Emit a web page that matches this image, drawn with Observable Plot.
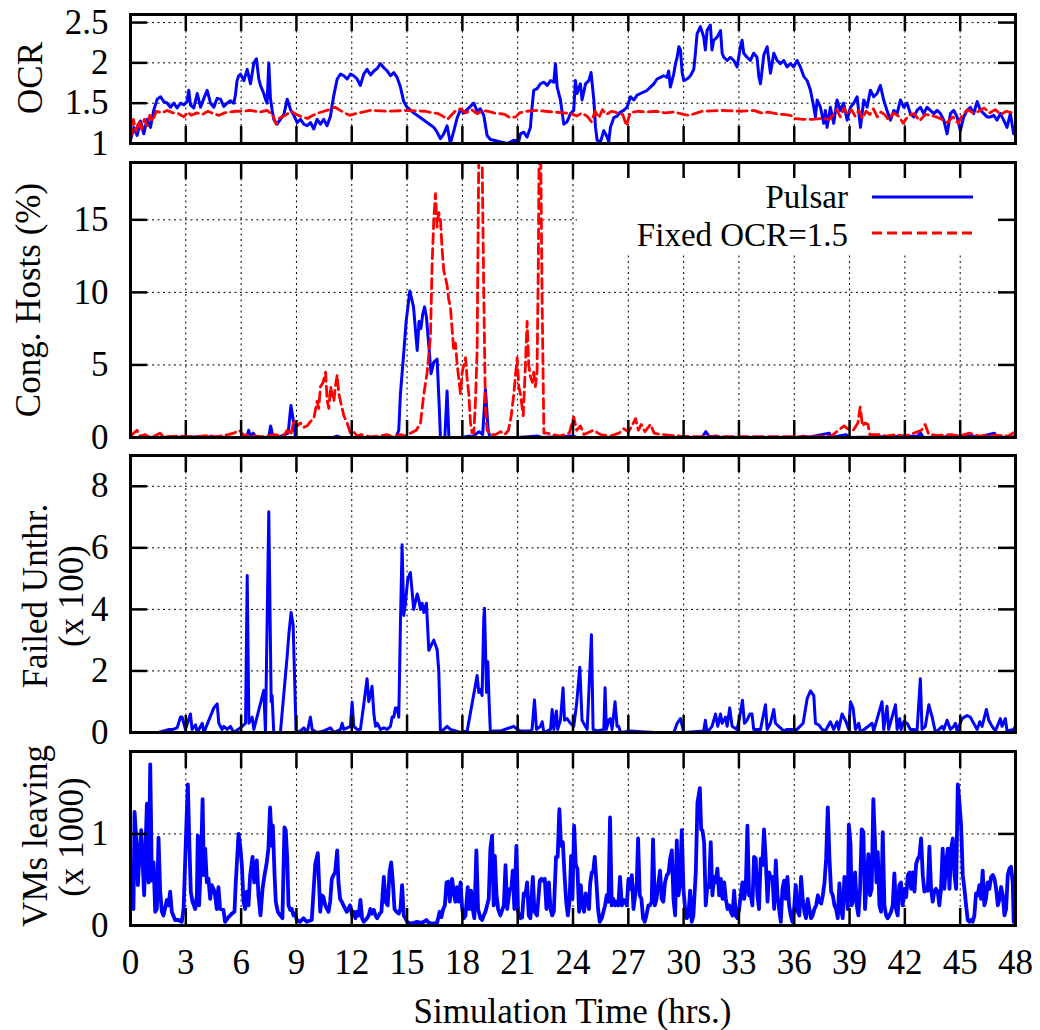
<!DOCTYPE html>
<html><head><meta charset="utf-8">
<script src="https://cdn.jsdelivr.net/npm/d3@7"></script>
<script src="https://cdn.jsdelivr.net/npm/@observablehq/plot@0.6"></script>
<style>
body{margin:0;background:#fff;}
#chart{position:relative;width:1040px;height:1030px;overflow:hidden;}
</style></head><body><div id="chart"></div>
<script>
// ---------- data (hours, value) ----------
const xTicks = [0,3,6,9,12,15,18,21,24,27,30,33,36,39,42,45,48];
const xGridTicks = [3,6,9,12,15,18,21,24,27,30,33,36,39,42,45];
const ocrTicks = [1,1.5,2,2.5];
const congTicks = [0,5,10,15];
const failTicks = [0,2,4,6,8];
const vmsTicks = [0,1];
const seriesNames = ["Pulsar","Fixed OCR=1.5"];
const xLabel = "Simulation Time (hrs.)";

const ocrPulsar = [[0,1.04],[0.18,1.2],[0.36,1.1],[0.54,1.28],[0.72,1.12],[0.9,1.3],[1.08,1.2],[1.27,1.42],[1.45,1.55],[1.63,1.58],[1.81,1.52],[1.99,1.5],[2.17,1.45],[2.35,1.5],[2.53,1.44],[2.71,1.5],[2.89,1.48],[3.07,1.52],[3.16,1.66],[3.25,1.48],[3.43,1.44],[3.62,1.62],[3.8,1.45],[3.98,1.56],[4.16,1.66],[4.34,1.5],[4.52,1.45],[4.7,1.56],[4.88,1.55],[5.06,1.46],[5.24,1.5],[5.42,1.53],[5.6,1.5],[5.69,1.6],[5.78,1.78],[5.87,1.84],[5.97,1.86],[6.15,1.78],[6.33,1.92],[6.51,1.74],[6.69,2.0],[6.83,2.05],[6.96,1.8],[7.05,1.72],[7.23,1.62],[7.32,1.55],[7.41,1.5],[7.5,2.0],[7.59,1.56],[7.68,1.42],[7.77,1.3],[7.95,1.24],[8.13,1.3],[8.32,1.36],[8.5,1.55],[8.68,1.42],[8.86,1.35],[9.04,1.26],[9.22,1.3],[9.4,1.24],[9.58,1.22],[9.76,1.26],[9.94,1.18],[10.12,1.3],[10.3,1.24],[10.48,1.3],[10.66,1.22],[10.85,1.34],[10.94,1.48],[11.03,1.6],[11.21,1.8],[11.39,1.86],[11.57,1.84],[11.75,1.8],[11.93,1.86],[12.11,1.84],[12.29,1.8],[12.47,1.72],[12.65,1.86],[12.83,1.92],[13.02,1.85],[13.2,1.9],[13.38,1.93],[13.56,1.99],[13.74,1.94],[13.92,1.9],[14.1,1.84],[14.28,1.88],[14.46,1.82],[14.64,1.7],[14.82,1.52],[15.0,1.45],[15.36,1.38],[15.73,1.32],[16.09,1.26],[16.45,1.2],[16.63,1.14],[16.81,1.06],[16.99,1.12],[17.17,1.22],[17.35,1.0],[17.53,1.15],[17.72,1.32],[17.9,1.42],[18.08,1.38],[18.26,1.42],[18.44,1.46],[18.62,1.5],[18.8,1.4],[18.98,1.43],[19.16,1.35],[19.34,1.1],[19.52,1.05],[19.7,1.04],[20.07,1.02],[20.43,1.0],[20.79,1.04],[21.06,1.03],
[21.15,1.12],[21.33,1.14],[21.51,1.08],[21.69,1.2],[21.78,1.45],[21.87,1.66],[22.05,1.68],[22.23,1.74],[22.42,1.76],[22.6,1.72],[22.78,1.78],[22.96,1.76],[23.05,1.99],[23.14,1.7],[23.32,1.54],[23.5,1.24],[23.68,1.27],[23.86,1.37],[24.04,1.41],[24.13,1.78],[24.22,1.62],[24.4,1.74],[24.49,1.54],[24.68,1.74],[24.86,1.78],[24.98,1.88],[25.13,1.54],[25.22,1.2],[25.31,1.04],[25.49,1.02],[25.67,1.16],[25.85,1.08],[25.94,1.02],[26.03,1.2],[26.21,1.32],[26.39,1.34],[26.57,1.39],[26.75,1.41],[26.93,1.45],[27.12,1.58],[27.3,1.54],[27.48,1.6],[27.66,1.62],[28.02,1.66],[28.2,1.7],[28.38,1.74],[28.56,1.8],[28.74,1.82],[28.92,1.84],[29.1,1.82],[29.19,1.9],[29.28,1.7],[29.47,1.87],[29.56,1.99],[29.65,2.07],[29.74,2.2],[29.83,2.16],[29.92,1.88],[30.01,1.78],[30.19,1.8],[30.37,1.84],[30.55,1.92],[30.64,2.12],[30.73,2.36],[30.91,2.45],[31.09,2.32],[31.18,2.16],[31.27,2.4],[31.45,2.47],[31.54,2.16],[31.63,2.28],[31.82,2.32],[32.0,2.4],[32.09,2.12],[32.18,2.07],[32.36,2.03],[32.54,2.07],[32.72,2.03],[32.9,1.95],[33.08,2.2],[33.17,2.28],[33.26,2.12],[33.44,2.07],[33.62,2.03],[33.8,2.12],[33.98,2.07],[34.08,1.83],[34.17,1.74],[34.35,2.1],[34.53,2.2],[34.71,1.87],[34.89,2.12],[35.07,2.03],[35.25,1.99],[35.43,2.03],[35.61,1.95],[35.79,1.99],[35.97,1.95],[36.15,2.03],[36.33,1.95],[36.52,1.83],[36.7,1.78],[36.88,1.66],[37.06,1.45],[37.15,1.33],[37.24,1.54],[37.42,1.45],[37.6,1.25],[37.69,1.41],[37.78,1.2],[37.96,1.45],[38.14,1.25],[38.32,1.54],[38.5,1.41],[38.68,1.5],[38.87,1.29],[39.05,1.45],[39.23,1.5],[39.41,1.58],[39.59,1.2],[39.77,1.54],[39.95,1.45],[40.13,1.66],[40.31,1.58],[40.49,1.62],[40.67,1.72],[40.85,1.54],[41.03,1.41],[41.22,1.29],[41.4,1.41],[41.58,1.37],[41.76,1.54],[41.94,1.45],[42.12,1.5],[42.3,1.37],[42.48,1.33],[42.66,1.41],[42.84,1.45],[43.02,1.37],[43.2,1.45],[43.38,1.41],[43.57,1.37],[43.75,1.41],[43.93,1.37],[44.11,1.29],[44.29,1.12],[44.47,1.37],[44.65,1.41],[44.83,1.33],[45.01,1.16],[45.19,1.33],[45.37,1.41],[45.55,1.45],[45.73,1.37],[45.92,1.52],[46.1,1.41],[46.28,1.37],[46.46,1.33],[46.64,1.33],[46.82,1.35],[47.0,1.29],[47.18,1.37],[47.36,1.29],[47.54,1.2],[47.72,1.37],[47.9,1.12]];

const ocrFixed = [[0,1.05],[0.15,1.3],[0.3,1.15],[0.45,1.28],[0.6,1.18],[0.75,1.3],[0.9,1.22],[1.05,1.35],[1.2,1.28],[1.4,1.4],[1.7,1.38],[2.0,1.41],[2.3,1.38],[2.6,1.37],[2.9,1.33],[3.1,1.39],[3.3,1.35],[3.6,1.38],[3.9,1.36],[4.2,1.4],[4.5,1.37],[4.8,1.35],[5.1,1.38],[5.4,1.39],[5.7,1.4],[6.0,1.4],[6.5,1.41],[7.0,1.39],[7.4,1.41],[7.7,1.36],[7.9,1.24],[8.1,1.32],[8.4,1.35],[8.7,1.4],[9.0,1.36],[9.3,1.33],[9.6,1.31],[9.9,1.35],[10.2,1.38],[10.5,1.4],[10.8,1.42],[11.1,1.45],[11.3,1.42],[11.6,1.38],[11.9,1.35],[12.2,1.37],[12.6,1.39],[13,1.41],[14,1.4],[15,1.41],[16,1.4],[16.4,1.38],[16.7,1.37],[17.0,1.33],[17.2,1.3],[17.4,1.35],[17.6,1.4],[17.9,1.43],[18.2,1.38],[18.5,1.42],[18.8,1.37],[19.1,1.41],[19.4,1.4],[19.7,1.38],[20.0,1.37],[20.3,1.36],[20.6,1.32],[20.9,1.33],[21.1,1.38],[21.5,1.4],[22,1.41],[22.5,1.4],[23,1.39],[23.5,1.38],[23.9,1.37],[24.2,1.34],[24.5,1.38],[24.8,1.33],[25.0,1.27],[25.2,1.4],[25.4,1.32],[25.6,1.42],[25.8,1.36],[26.1,1.4],[26.4,1.38],[26.7,1.36],[26.9,1.22],[27.1,1.38],[27.5,1.4],[28,1.39],[28.5,1.4],[29,1.38],[29.5,1.39],[30.0,1.36],[30.3,1.35],[30.6,1.37],[31,1.4],[32,1.41],[33,1.4],[33.8,1.41],[34.2,1.38],[34.6,1.39],[35.0,1.37],[35.4,1.36],[35.8,1.35],[36.0,1.31],[36.5,1.3],[37.0,1.3],[37.5,1.31],[37.9,1.3],[38.1,1.35],[38.3,1.42],[38.5,1.33],[38.7,1.44],[38.9,1.36],[39.1,1.42],[39.3,1.34],[39.5,1.41],[39.7,1.31],[39.9,1.4],[40.1,1.36],[40.3,1.43],[40.5,1.33],[40.7,1.39],[40.9,1.36],[41.1,1.3],[41.4,1.38],[41.7,1.33],[41.9,1.25],[42.2,1.35],[42.5,1.37],[42.8,1.28],[43.1,1.36],[43.4,1.35],[43.7,1.33],[44.0,1.3],[44.3,1.26],[44.6,1.33],[44.9,1.25],[45.1,1.35],[45.4,1.42],[45.7,1.38],[46.0,1.4],[46.3,1.44],[46.6,1.38],[46.9,1.42],[47.2,1.36],[47.5,1.4],[47.8,1.38],[48,1.4]];

const congPulsar = [[0,0],[2,0],[4,0.05],[5.5,0],[6.3,0],[6.41,0.5],[6.5,0],[6.65,0.3],[6.8,0],[7.5,0],[7.6,0.8],[7.7,0.2],[8.0,0],[8.55,0.3],[8.7,2.2],[8.85,1.0],[8.95,0],[11,0],[11.2,0.1],[11.4,0],[14.4,0],[14.55,0.5],[14.64,3.0],[14.8,5.5],[14.95,8],[15.15,10.1],[15.35,9],[15.55,6],[15.65,8],[15.75,7.5],[15.85,8.5],[15.95,9],[16.05,8.3],[16.2,6],[16.3,4.4],[16.45,5.2],[16.63,5.4],[16.75,2],[16.81,0],[17.05,0],[17.17,3.2],[17.27,0],[18.0,0],[18.4,0.1],[18.5,0],[18.9,0.4],[19.1,0.2],[19.25,3.3],[19.4,0.5],[19.5,0],[21,0],[22.1,0.1],[22.3,0],[24,0.1],[24.2,0],[31.0,0],[31.2,0.4],[31.4,0.05],[31.8,0.1],[32,0],[36.3,0],[36.5,0.1],[36.7,0],[37.9,0.3],[38.0,0],[38.8,0.2],[39.0,0],[42.7,0.1],[42.85,0.3],[43.0,0],[45.7,0.1],[45.9,0],[46.85,0.3],[47.0,0],[48,0.05]];

const congFixed = [[0,0.1],[0.35,0.5],[0.5,0.1],[0.8,0.2],[1.0,0.05],[1.3,0.1],[1.6,0.3],[1.8,0.05],[2.5,0.1],[3.5,0.05],[4.3,0.15],[4.6,0.05],[5.3,0.2],[5.6,0.3],[5.9,0.5],[6.1,0.2],[6.5,0.1],[7.2,0.05],[7.8,0.2],[8.3,0.1],[8.5,0.5],[8.7,0.2],[8.86,1.2],[9.04,0.8],[9.22,1.0],[9.4,0.7],[9.58,0.8],[9.76,1.1],[9.94,1.3],[10.12,2.5],[10.21,2.0],[10.3,3.5],[10.45,3.8],[10.58,4.5],[10.67,2.5],[10.76,2.0],[10.85,3.5],[11.03,2.5],[11.12,3.6],[11.21,4.3],[11.3,3.0],[11.39,2.5],[11.57,1.5],[11.75,1.0],[11.93,0.3],[12.1,0.4],[12.3,0.1],[12.5,0.2],[13,0.05],[13.5,0.1],[13.9,0.2],[14.2,0.05],[14.64,0.2],[14.9,0.1],[15.18,0.3],[15.5,0.5],[15.73,1.0],[15.91,3],[16.09,4.5],[16.27,7],[16.36,12],[16.45,15],[16.54,16.8],[16.63,14.5],[16.72,15.5],[16.81,15],[16.9,13],[16.99,11.5],[17.08,11],[17.17,10.5],[17.26,9.5],[17.35,9],[17.44,7.5],[17.53,6],[17.62,6.5],[17.72,5],[17.81,4],[17.9,3],[17.99,4.5],[18.08,5],[18.17,5.5],[18.26,4],[18.35,3],[18.44,1],[18.53,0.3],[18.62,0.3],[18.71,2.5],[18.8,6],[18.89,19.5],[19.07,19.5],[19.16,10],[19.25,2],[19.34,0.5],[19.52,0.2],[19.8,0.2],[20.07,0.4],[20.3,0.2],[20.5,0.5],[20.65,1.5],[20.79,3],[20.97,5.5],[21.06,3.5],[21.15,3],[21.3,1.5],[21.42,5],[21.51,8],[21.6,5],[21.69,4.2],[21.8,3.8],[21.87,4.5],[21.96,3.5],[22.05,4.5],[22.12,12],[22.16,19.5],[22.25,19.5],[22.32,10],[22.42,0.3],[22.6,0.3],[22.9,0.2],[23.3,0.1],[23.8,0.3],[24.04,1.4],[24.2,0.5],[24.4,0.8],[24.6,0.2],[25.1,0.5],[25.5,0.2],[26.0,0.1],[26.5,0.3],[26.75,0.6],[27.0,0.4],[27.2,0.8],[27.39,1.3],[27.55,0.5],[27.7,0.9],[27.9,0.4],[28.2,0.9],[28.4,0.3],[28.8,0.2],[29.3,0.15],[29.8,0.1],[30.5,0.05],[31.5,0.05],[33,0.05],[35,0.05],[37,0.05],[38.0,0.1],[38.5,0.6],[38.7,0.8],[38.9,0.6],[39.2,0.5],[39.45,1.0],[39.58,2.1],[39.7,0.8],[39.85,1.0],[40.0,0.9],[40.1,0.2],[40.6,0.2],[41.0,0.1],[41.5,0.2],[42.0,0.1],[42.5,0.3],[42.9,0.5],[43.1,0.9],[43.3,0.2],[43.8,0.15],[44.5,0.2],[45.0,0.1],[45.5,0.3],[46.0,0.1],[47.0,0.15],[47.6,0.1],[48,0.4]];

const failedPulsar = [[0,0],[1.5,0],[1.8,0.05],[2.1,0.1],[2.3,0.1],[2.53,0.15],[2.71,0.5],[2.8,0.5],[2.98,0.1],[3.25,0.6],[3.34,0.1],[3.53,0.25],[3.62,0],[3.89,0.3],[3.98,0],[4.52,0.8],[4.7,0.93],[4.79,0.3],[4.97,0.1],[5.06,0.2],[5.24,0.1],[5.42,0.2],[5.6,0],[6.06,0.2],[6.24,0.3],[6.33,5.1],[6.42,0.3],[6.6,0.5],[6.69,0.1],[7.23,1.37],[7.32,0],[7.5,7.17],[7.63,1.0],[7.68,1.2],[7.77,0],[8.13,0],[8.5,2.5],[8.59,3.2],[8.71,3.9],[8.82,3.5],[8.89,2.0],[8.98,0],[9.22,0.05],[9.4,0.15],[9.58,0],[9.76,0.5],[9.85,0.1],[10.12,0],[10.48,0.05],[10.85,0.15],[11.03,0],[11.39,0.1],[11.48,0.3],[11.57,0.1],[11.75,0.15],[11.93,0.2],[12.02,0.99],[12.11,0.2],[12.29,0.1],[12.47,0.1],[12.65,0.9],[12.83,1.75],[12.92,1.0],[13.01,1.2],[13.1,1.5],[13.2,0.6],[13.29,0.2],[13.38,0.3],[13.56,0.1],[13.74,0.15],[13.92,0.1],[14.1,0.2],[14.19,0.5],[14.28,0.5],[14.37,0.8],[14.46,0.8],[14.55,0.5],[14.64,3.5],[14.73,6.1],[14.82,3.8],[14.91,4.2],[15.04,5.0],[15.18,5.2],[15.36,4.0],[15.55,4.5],[15.64,4.3],[15.73,4.0],[15.82,4.2],[15.91,3.9],[16.05,4.2],[16.18,2.67],[16.36,2.9],[16.45,3.0],[16.63,2.7],[16.72,2.0],[16.81,0],[17.17,0.2],[17.35,0.1],[17.9,0],[18.26,0.05],[18.8,1.85],[18.89,1.3],[18.98,1.4],[19.07,1.2],[19.16,3.7],[19.2,4.04],[19.31,1.3],[19.38,2.3],[19.45,1.0],[19.52,0],[19.7,0.05],[20.07,0.05],[20.79,0.2],[20.97,0.1],
[21.15,0.05],[21.7,0.05],[21.78,0.1],[21.91,1.06],[22.02,0.1],[22.23,0.2],[22.33,0.35],[22.42,0],[22.78,0.1],[22.87,0.75],[22.96,0.1],[23.1,0.7],[23.17,0.1],[23.32,0.4],[23.46,1.45],[23.54,0.4],[23.68,0.45],[23.86,0.3],[24.04,0.2],[24.19,0.9],[24.37,2.12],[24.49,0.4],[24.58,0.3],[24.77,0.1],[25.0,3.18],[25.09,0.1],[25.31,0.05],[25.67,0.1],[25.74,1.45],[25.81,0.1],[25.94,0.4],[26.03,0.45],[26.12,0.1],[26.28,1.0],[26.39,0.2],[26.48,0.2],[26.57,0],[27.12,0.05],[28.38,0],[29.47,0],[29.65,0.3],[29.83,0.45],[30.01,0],[31.09,0.05],[31.18,0.4],[31.27,0],[31.54,0.2],[31.73,0.6],[31.85,0.2],[32.0,0.6],[32.09,0.3],[32.27,0.5],[32.36,0.2],[32.5,0.8],[32.63,0.2],[32.9,0.1],[33.04,0.5],[33.19,1.05],[33.3,0.3],[33.44,0.4],[33.59,0.6],[33.71,0.6],[33.8,0.1],[34.17,0.1],[34.44,0.9],[34.53,0.1],[34.71,0.3],[34.89,0.75],[34.98,0.3],[35.16,0.2],[35.43,0.05],[35.61,0.1],[35.79,0.1],[36.15,0.1],[36.48,0.3],[36.7,1.1],[36.88,1.35],[37.06,1.2],[37.15,0.3],[37.33,0.25],[37.51,0.1],[37.69,0.05],[37.96,0.35],[38.14,0.1],[38.32,0.35],[38.41,0.1],[38.59,0.6],[38.77,0.4],[38.96,0.1],[39.05,1.0],[39.19,0.8],[39.32,0.1],[39.5,0.3],[39.59,0],[40.22,0.3],[40.31,0.05],[40.76,1.0],[40.85,0.1],[41.03,0.85],[41.12,0.1],[41.49,0.9],[41.58,0.1],[41.72,0.45],[41.79,0.1],[41.94,0.35],[42.12,0.3],[42.3,0.1],[42.48,0.1],[42.66,0.05],[42.84,1.75],[42.93,0.1],[43.11,0.2],[43.3,0.9],[43.48,0.5],[43.66,0],[44.02,0.2],[44.11,0.1],[44.29,0.4],[44.47,0.1],[44.65,0.2],[44.74,0.3],[44.83,0.05],[45.1,0.45],[45.37,0.55],[45.55,0.5],[45.73,0.3],[45.92,0.1],[46.06,0.35],[46.19,0.2],[46.42,0.75],[46.55,0.4],[46.73,0.2],[46.91,0.05],[47.18,0.45],[47.27,0.2],[47.45,0.45],[47.54,0.05],[47.9,0.1],[48,0.2]];

const vmsPulsar = [[0,0.3],[0.07,0.69],[0.16,0.18],[0.22,1.24],[0.29,1.02],[0.4,0.44],[0.49,0.8],[0.58,1.04],[0.65,0.73],[0.74,0.33],[0.8,0.75],[0.89,1.33],[0.98,0.47],[1.07,1.76],[1.16,0.49],[1.25,0.69],[1.34,0.15],[1.43,0.18],[1.52,0.96],[1.61,0.37],[1.7,0.15],[1.79,0.11],[1.97,0.28],[2.06,0.22],[2.15,0.37],[2.24,0.15],[2.42,0.06],[2.6,0.06],[2.78,0.04],[2.88,0.18],[2.97,0.73],[3.06,1.27],[3.11,1.54],[3.2,0.84],[3.27,0.37],[3.36,0.26],[3.51,0.18],[3.6,0.33],[3.65,0.98],[3.72,0.22],[3.83,0.73],[3.91,1.38],[3.98,0.55],[4.05,0.84],[4.14,0.47],[4.23,0.51],[4.32,0.29],[4.41,0.44],[4.56,0.37],[4.68,0.18],[4.77,0.42],[4.86,0.18],[5.04,0.17],[5.13,0.04],[5.31,0.09],[5.5,0.13],[5.64,0.15],[5.71,0.47],[5.86,1.0],[5.95,0.87],[6.04,0.66],[6.13,0.26],[6.22,0.18],[6.31,0.37],[6.4,0.22],[6.49,0.55],[6.62,0.75],[6.71,0.47],[6.85,0.71],[6.94,0.33],[7.05,0.11],[7.16,0.4],[7.27,0.55],[7.39,0.69],[7.48,0.84],[7.57,1.29],[7.67,0.87],[7.72,1.09],[7.81,0.57],[7.88,0.26],[7.99,0.15],[8.12,0.11],[8.24,0.08],[8.35,1.07],[8.42,1.04],[8.5,0.73],[8.57,0.22],[8.66,0.17],[8.75,0.18],[8.84,0.11],[8.93,0.13],[9.02,0.06],[9.2,0.04],[9.38,0.08],[9.56,0.04],[9.83,0.06],[10.02,0.67],[10.16,0.79],[10.29,0.15],[10.38,0.33],[10.47,0.31],[10.56,0.22],[10.74,0.15],[10.83,0.26],[10.92,0.51],[11.01,0.55],[11.1,0.58],[11.21,0.82],[11.28,0.47],[11.37,0.29],[11.46,0.26],[11.55,0.22],[11.73,0.15],[11.91,0.22],
[12.02,0.11],[12.11,0.15],[12.2,0.08],[12.29,0.15],[12.38,0.11],[12.47,0.28],[12.56,0.08],[12.65,0.04],[12.83,0.08],[12.92,0.11],[13.01,0.18],[13.1,0.13],[13.2,0.17],[13.29,0.11],[13.38,0.08],[13.52,0.13],[13.61,0.15],[13.74,0.53],[13.83,0.26],[13.95,0.22],[14.05,0.58],[14.14,0.69],[14.23,0.47],[14.32,0.18],[14.42,0.15],[14.55,0.13],[14.64,0.18],[14.73,0.44],[14.82,0.11],[14.91,0.08],[15.0,0.04],[15.18,0.02],[15.36,0.03],[15.55,0.04],[15.73,0.03],[15.91,0.04],[16.05,0.06],[16.18,0.03],[16.36,0.02],[16.63,0.03],[16.77,0.15],[16.86,0.09],[16.96,0.18],[17.05,0.22],[17.14,0.47],[17.23,0.48],[17.32,0.26],[17.44,0.51],[17.53,0.37],[17.62,0.26],[17.71,0.42],[17.81,0.26],[17.9,0.47],[17.99,0.18],[18.08,0.08],[18.17,0.11],[18.29,0.42],[18.38,0.18],[18.47,0.38],[18.56,0.18],[18.65,0.08],[18.76,0.82],[18.85,0.18],[18.98,0.08],[19.07,0.06],[19.16,0.11],[19.25,0.15],[19.34,0.22],[19.43,0.29],[19.52,0.84],[19.61,0.98],[19.7,0.22],[19.76,0.76],[19.85,0.33],[19.94,0.18],[20.06,0.11],[20.25,0.22],[20.34,0.66],[20.43,0.18],[20.57,0.4],[20.66,0.4],[20.73,0.6],[20.82,0.18],[20.93,0.87],[21.02,0.15],[21.15,0.08],[21.24,0.09],[21.33,0.35],[21.42,0.33],[21.51,0.47],[21.6,0.11],[21.69,0.08],[21.82,0.53],[21.91,0.15],[22.05,0.11],[22.2,0.49],[22.29,0.51],[22.38,0.49],[22.47,0.51],[22.56,0.18],[22.69,0.47],[22.78,0.18],[22.87,0.11],[22.96,0.15],[23.08,0.75],[23.17,0.75],[23.26,1.27],[23.35,0.87],[23.45,0.91],[23.54,0.55],[23.63,0.26],[23.72,0.11],[23.81,0.26],[23.9,0.76],[23.97,0.29],[24.06,1.09],[24.15,0.66],[24.24,0.62],[24.33,0.15],[24.42,0.44],[24.51,0.22],[24.6,0.15],[24.69,0.35],[24.78,0.26],[24.87,0.18],[24.93,0.46],[25.02,0.58],[25.09,0.58],[25.18,0.75],[25.27,0.47],[25.36,0.18],[25.45,0.04],[25.56,0.08],[25.65,0.15],[25.74,0.22],[25.83,0.33],[25.92,0.26],[26.01,1.18],[26.1,0.22],[26.19,0.29],[26.28,0.22],[26.37,0.26],[26.46,0.22],[26.55,0.53],[26.65,0.22],[26.74,0.28],[26.83,0.26],[26.92,0.22],[27.01,0.51],[27.1,0.4],[27.19,0.55],[27.28,0.18],[27.37,0.33],[27.46,0.47],[27.53,0.95],[27.62,0.33],[27.71,0.29],[27.8,0.08],[27.89,0.04],[27.98,0.11],[28.09,0.22],[28.18,0.22],[28.27,0.26],[28.34,0.94],[28.44,0.22],[28.53,0.29],[28.62,0.44],[28.72,0.6],[28.81,0.29],[28.9,0.26],[28.99,0.47],[29.09,0.55],[29.18,0.57],[29.27,0.73],[29.36,0.82],[29.45,0.29],[29.54,0.11],[29.63,0.93],[29.72,0.33],[29.81,0.47],[29.9,1.04],[29.99,0.4],[30.08,0.18],[30.17,0.08],[30.26,0.11],[30.35,0.38],[30.44,0.04],[30.53,0.11],[30.66,0.58],[30.75,1.34],[30.88,1.5],[30.95,1.05],[31.02,1.04],[31.11,0.91],[31.2,0.22],[31.29,0.44],[31.38,0.42],[31.47,0.91],[31.56,0.33],[31.65,0.53],[31.74,0.47],[31.83,0.62],[31.93,0.33],[32.02,0.51],[32.11,0.29],[32.2,0.47],[32.29,0.29],[32.38,0.18],[32.47,0.22],[32.56,0.15],[32.65,0.11],[32.74,0.38],[32.83,0.11],[32.92,0.08],[33.01,0.18],[33.1,0.33],[33.19,0.47],[33.28,0.29],[33.37,0.4],[33.46,1.09],[33.55,0.33],[33.64,0.33],[33.73,0.22],[33.82,0.75],[33.91,0.73],[34.0,0.33],[34.09,0.18],[34.18,0.73],[34.27,0.66],[34.36,1.05],[34.45,0.73],[34.55,0.26],[34.64,0.58],[34.73,0.51],[34.82,0.53],[34.91,0.18],[35.0,0.71],[35.09,0.33],[35.18,0.18],[35.27,0.04],[35.36,0.4],[35.45,0.49],[35.54,0.29],[35.63,0.53],[35.72,0.22],[35.81,0.11],[35.9,0.04],[35.99,0.18],[36.08,0.44],[36.19,0.15],[36.28,0.11],[36.37,0.53],[36.46,0.29],[36.55,0.15],[36.64,0.08],[36.73,0.29],[36.82,0.18],[36.91,0.08],[37.0,0.11],[37.09,0.18],[37.19,0.22],[37.28,0.33],[37.37,0.26],[37.46,0.24],[37.55,0.33],[37.64,0.47],[37.73,0.73],[37.82,1.29],[37.91,0.73],[38.0,0.37],[38.09,0.33],[38.18,0.22],[38.27,0.18],[38.36,0.08],[38.45,0.46],[38.54,0.18],[38.63,0.08],[38.72,0.53],[38.81,0.47],[38.9,0.18],[38.96,1.1],[39.05,0.89],[39.12,0.22],[39.21,0.29],[39.3,0.58],[39.39,0.22],[39.48,0.11],[39.57,0.4],[39.66,1.05],[39.75,1.02],[39.84,0.18],[39.93,0.47],[40.02,0.78],[40.11,0.33],[40.2,0.4],[40.29,1.38],[40.38,0.91],[40.46,0.47],[40.53,0.8],[40.62,0.22],[40.71,0.15],[40.8,1.02],[40.89,0.22],[40.98,0.11],[41.07,0.08],[41.16,0.11],[41.25,0.15],[41.34,0.22],[41.43,0.57],[41.52,0.18],[41.61,0.11],[41.7,0.44],[41.79,0.47],[41.88,0.22],[41.98,0.4],[42.07,0.31],[42.16,0.55],[42.25,0.58],[42.34,0.4],[42.43,0.58],[42.52,0.37],[42.61,0.67],[42.7,0.73],[42.79,0.76],[42.88,0.95],[42.97,0.55],[43.06,0.37],[43.15,0.4],[43.24,0.38],[43.33,0.86],[43.42,0.4],[43.51,0.26],[43.6,0.38],[43.69,0.4],[43.78,0.37],[43.87,0.22],[43.96,0.4],[44.05,0.84],[44.14,0.4],[44.24,0.69],[44.33,0.84],[44.42,0.4],[44.51,0.84],[44.6,0.95],[44.69,0.55],[44.78,0.4],[44.87,1.54],[44.96,1.34],[45.05,1.09],[45.14,0.55],[45.23,0.4],[45.32,0.22],[45.41,0.06],[45.5,0.04],[45.59,0.06],[45.68,0.04],[45.77,0.11],[45.86,0.35],[45.95,0.33],[46.04,0.44],[46.13,0.29],[46.22,0.6],[46.31,0.22],[46.4,0.29],[46.49,0.47],[46.58,0.4],[46.68,0.53],[46.77,0.55],[46.86,0.51],[46.95,0.4],[47.04,0.22],[47.13,0.29],[47.22,0.42],[47.31,0.33],[47.4,0.11],[47.49,0.18],[47.58,0.55],[47.67,0.62],[47.76,0.64],[47.85,0.47],[47.9,0.04]];

// ---------- drawing ----------
const FONT = '"Liberation Serif","Times New Roman",Times,serif';
const FS = 35, LEGEND_FS = 33;
const W = 1040, ML = 130, MR = 25, TICK = 17;
const BLUE = "#0000ff", RED = "#ff0000";
const chart = document.getElementById("chart");

function pulsarLine(data, sw = 3) {
  return Plot.line(data, {x: d => d[0], y: d => d[1], stroke: BLUE, strokeWidth: sw, strokeLinejoin: "round", clip: true});
}
function fixedLine(data) {
  return Plot.line(data, {x: d => d[0], y: d => d[1], stroke: RED, strokeWidth: 2.8, strokeDasharray: "10,5", clip: true});
}

function panel({top, height, mt, mb, yDomain, yTicks, lines, xAxis}) {
  const fw = W - ML - MR, fh = height - mt - mb;
  const grid = {stroke: "#000", strokeWidth: 1, strokeDasharray: "2,3.5"};
  const tk = {stroke: "#000", strokeWidth: 2.5};
  const marks = [
    Plot.ruleX(xGridTicks, grid),
    Plot.ruleY(yTicks.slice(1), grid),
    ...lines,
    Plot.ruleX(xTicks, {...tk, insetTop: fh - TICK}),
    Plot.ruleX(xTicks, {...tk, insetBottom: fh - TICK}),
    Plot.ruleY(yTicks, {...tk, insetRight: fw - TICK}),
    Plot.ruleY(yTicks, {...tk, insetLeft: fw - TICK}),
    Plot.axisY(yTicks, {tickSize: 0, tickPadding: 22, fontSize: FS, label: null, tickFormat: d => String(d)}),
    xAxis ? Plot.axisX(xTicks, {tickSize: 0, tickPadding: 24, fontSize: FS, label: null, tickFormat: d => String(d)}) : null,
    Plot.frame({stroke: "#000", strokeWidth: 3})
  ];
  const p = Plot.plot({
    width: W, height, marginLeft: ML, marginRight: MR, marginTop: mt, marginBottom: mb,
    style: {background: "transparent", overflow: "visible", fontFamily: FONT, fontSize: FS + "px", color: "#000"},
    x: xAxis ? {domain: [0, 48]} : {domain: [0, 48], axis: null},
    y: {domain: yDomain},
    marks
  });
  p.style.position = "absolute";
  p.style.left = "0px";
  p.style.top = top + "px";
  chart.appendChild(p);
  return d3.select(p);
}

function vlabel(svg, x, y, text) {
  svg.append("text").attr("transform", `translate(${x},${y}) rotate(-90)`)
    .attr("text-anchor", "middle").attr("font-family", FONT).attr("font-size", FS)
    .attr("fill", "#000").text(text);
}

// Panel 1: OCR
const p1 = panel({top: 0, height: 150, mt: 14, mb: 7, yDomain: [1, 2.6], yTicks: ocrTicks,
  lines: [pulsarLine(ocrPulsar), fixedLine(ocrFixed)]});
vlabel(p1, 42, 78, "OCR");

// Panel 2: congested hosts
const p2 = panel({top: 150, height: 297, mt: 12, mb: 10, yDomain: [0, 18.95], yTicks: congTicks,
  lines: [pulsarLine(congPulsar), fixedLine(congFixed)]});
vlabel(p2, 40, 150, "Cong. Hosts (%)");
// legend
p2.append("rect").attr("x", 577).attr("y", 28).attr("width", 420).attr("height", 74).attr("fill", "#fff");
p2.append("text").attr("x", 848).attr("y", 58).attr("text-anchor", "end").attr("font-family", FONT).attr("font-size", LEGEND_FS).text(seriesNames[0]);
p2.append("text").attr("x", 848).attr("y", 96).attr("text-anchor", "end").attr("font-family", FONT).attr("font-size", LEGEND_FS).text(seriesNames[1]);
p2.append("line").attr("x1", 872).attr("x2", 973).attr("y1", 47).attr("y2", 47).attr("stroke", BLUE).attr("stroke-width", 3);
p2.append("line").attr("x1", 872).attr("x2", 973).attr("y1", 83).attr("y2", 83).attr("stroke", RED).attr("stroke-width", 2.8).attr("stroke-dasharray", "10,5");

// Panel 3: failed unthrottles
const p3 = panel({top: 447, height: 296, mt: 8, mb: 11, yDomain: [0, 9], yTicks: failTicks,
  lines: [pulsarLine(failedPulsar)]});
vlabel(p3, 47, 149, "Failed Unthr.");
vlabel(p3, 83, 149, "(x 100)");

// Panel 4: VMs leaving
const p4 = panel({top: 743, height: 287, mt: 8, mb: 105, yDomain: [0, 1.9], yTicks: vmsTicks,
  lines: [pulsarLine(vmsPulsar, 3.8)], xAxis: true});
vlabel(p4, 47, 93, "VMs leaving");
vlabel(p4, 83, 94, "(x 1000)");
p4.append("text").attr("x", (ML + W - MR) / 2).attr("y", 280).attr("text-anchor", "middle")
  .attr("font-family", FONT).attr("font-size", FS).attr("fill", "#000").text(xLabel);
</script></body></html>
